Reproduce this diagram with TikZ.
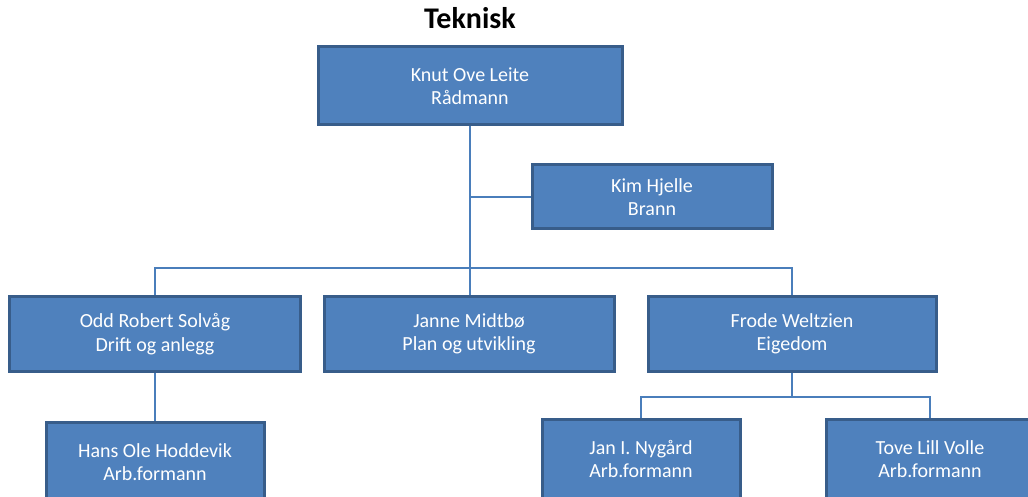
\documentclass[tikz,border=0pt]{standalone}
\usepackage{fontspec}
\setmainfont{Carlito}
\usepackage{xcolor}
\usetikzlibrary{calc}
\definecolor{boxfill}{RGB}{79,129,189}
\definecolor{boxline}{RGB}{56,93,138}
\definecolor{linkline}{RGB}{74,126,187}
\tikzset{
  person/.style={draw=boxline,fill=boxfill,line width=3pt,text=white,align=center,
    font=\fontsize{20}{23.5}\selectfont,inner sep=0pt},
  link/.style={draw=linkline,line width=1.6pt}
}
\begin{document}
\begin{tikzpicture}[x=1pt,y=-1pt]
        \useasboundingbox (0,0) rectangle (1028,497);
        \clip (0,0) rectangle (1028,497);
        \node[font=\fontsize{30}{34}\selectfont\bfseries] (title) at (470,18) {Teknisk};
        \node[person,minimum width=304pt,minimum height=78pt] (leite) at (470,86) {Knut Ove Leite\\Rådmann};
        \node[person,minimum width=240pt,minimum height=64pt] (hjelle) at (652,197) {Kim Hjelle\\Brann};
        \node[person,minimum width=291pt,minimum height=75pt] (solvaag) at (155,334) {Odd Robert Solvåg\\Drift og anlegg};
        \node[person,minimum width=290pt,minimum height=75pt] (midtboe) at (469,334) {Janne Midtbø\\Plan og utvikling};
        \node[person,minimum width=288pt,minimum height=75pt] (weltzien) at (792,334) {Frode Weltzien\\Eigedom};
        \node[person,minimum width=218pt,minimum height=80pt] (hoddevik) at (155,462) {Hans Ole Hoddevik\\Arb.formann};
        \node[person,minimum width=198pt,minimum height=80pt] (nygaard) at (641,459) {Jan I. Nygård\\Arb.formann};
        \node[person,minimum width=208pt,minimum height=80pt] (volle) at (930,459) {Tove Lill Volle\\Arb.formann};
        % connectors
        \coordinate (split) at (470,268);
        \coordinate (esplit) at (792,397);
        \draw[link] (leite.south) -- (leite.south |- midtboe.north);
        \draw[link] (leite.south |- hjelle.west) -- (hjelle.west);
        \draw[link] (solvaag.north) |- (split) -| (weltzien.north);
        \draw[link] (solvaag.south) -- (hoddevik.north);
        \draw[link] (weltzien.south) -- (esplit);
        \draw[link] (nygaard.north) |- (esplit) -| (volle.north);
      \end{tikzpicture}
\end{document}
